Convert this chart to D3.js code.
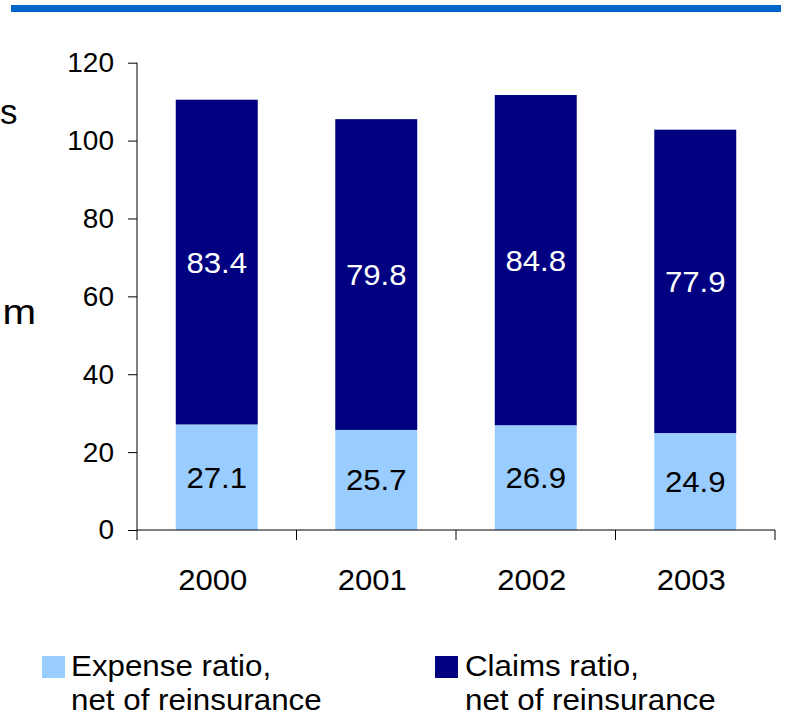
<!DOCTYPE html>
<html><head><meta charset="utf-8">
<script src="https://cdn.jsdelivr.net/npm/d3@7"></script>
<style>body{margin:0;background:#fff}svg{display:block}text{font-family:"Liberation Sans",Arial,sans-serif}</style>
</head><body>
<svg id="c" width="786" height="717"></svg>
<script>
const years = ["2000","2001","2002","2003"];
const expenseRatio = [27.1, 25.7, 26.9, 24.9];
const claimsRatio = [83.4, 79.8, 84.8, 77.9];
const yTicks = [0,20,40,60,80,100,120];
const seriesNames = [["Expense ratio,","net of reinsurance"],["Claims ratio,","net of reinsurance"]];
const colors = ["#99ccff","#000080"];

const svg = d3.select("#c");
// helper: horizontally stretched text
function stext(parent, x, y, str, size, sx, anchor, fill){
  return parent.append("text")
    .attr("transform",`translate(${x},${y}) scale(${sx},1)`)
    .attr("text-anchor",anchor||"start").attr("font-size",size).attr("fill",fill||"#000").text(str);
}
// top rule
svg.append("rect").attr("x",11).attr("y",5).attr("width",770).attr("height",7).attr("fill","#0066cc");
// cut-off slide text on left
stext(svg,0,124,"s",35,1,"start");
stext(svg,36,324,"m",36,1.12,"end");

const x = d3.scaleBand().domain(years).range([137,775]).paddingInner(0.486).paddingOuter(0.243);
const xb = d3.scaleBand().domain(years).range([137,775]);
const y = d3.scaleLinear().domain([0,120]).range([530,62.7]);

// bars
const g = svg.append("g");
years.forEach((yr,i)=>{
  const e = expenseRatio[i], c = claimsRatio[i];
  g.append("rect").attr("x",x(yr)).attr("width",x.bandwidth()).attr("y",y(e)).attr("height",y(0)-y(e)).attr("fill",colors[0]);
  g.append("rect").attr("x",x(yr)).attr("width",x.bandwidth()).attr("y",y(e+c)).attr("height",y(e)-y(e+c)).attr("fill",colors[1]);
  const cx = x(yr)+x.bandwidth()/2;
  stext(g,cx,(y(0)+y(e))/2+10.5,e.toFixed(1),30,1.04,"middle","#000");
  stext(g,cx,(y(e)+y(e+c))/2+10.5,c.toFixed(1),30,1.04,"middle","#fff");
});

// y axis
const ya = svg.append("g").attr("transform","translate(137,0)")
  .call(d3.axisLeft(y).tickValues(yTicks).tickSize(9).tickPadding(14).tickFormat(d3.format("d")));
ya.selectAll("text").attr("font-size",28).attr("font-family","Liberation Sans, Arial, sans-serif").attr("fill","#000");
ya.select(".domain").attr("d","M0,62.7V530");
ya.selectAll("line,path").attr("stroke","#000");

// x axis
const xa = svg.append("g").attr("transform","translate(0,530)");
xa.append("line").attr("x1",137).attr("x2",775).attr("stroke","#000");
const bounds = years.map(d=>xb(d)).concat([775]);
xa.selectAll("line.t").data(bounds).join("line").attr("class","t").attr("x1",d=>d).attr("x2",d=>d).attr("y1",0).attr("y2",10).attr("stroke","#000");
years.forEach(d=>{
  stext(xa, xb(d)+xb.bandwidth()/2-4, 60, d, 29, 1.07, "middle", "#000");
});

// legend
const lg = [{sx:42, tx:71},{sx:435, tx:465}];
lg.forEach((p,i)=>{
  svg.append("rect").attr("x",p.sx).attr("y",656).attr("width",23).attr("height",22).attr("fill",colors[i]);
  stext(svg,p.tx,676,seriesNames[i][0],29,1.08,"start","#000");
  stext(svg,p.tx,710,seriesNames[i][1],29,1.08,"start","#000");
});
</script>
</body></html>
